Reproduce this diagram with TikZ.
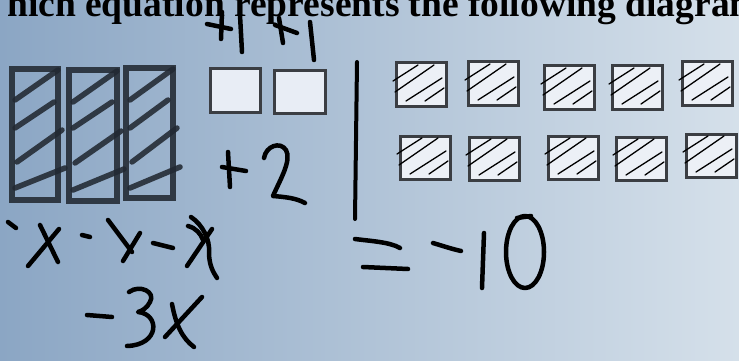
\documentclass[tikz,border=0pt]{standalone}
\usepackage{fontspec}
\setmainfont{Liberation Serif}
\definecolor{bgl}{RGB}{139,166,196}
\definecolor{bgr}{RGB}{213,224,234}
\definecolor{barcol}{RGB}{34,41,50}
\definecolor{boxedge}{RGB}{59,62,67}
\definecolor{tilefill}{RGB}{232,237,245}
\definecolor{negfill}{RGB}{236,240,246}
\tikzset{
  hand/.style={line width=4.5pt, line cap=round, line join=round, draw=black},
  bar/.style={line width=5.5pt, line cap=round, draw=barcol, draw opacity=0.88},
  unitbox/.style={draw=boxedge, line width=3pt, fill=tilefill},
  negbox/.style={draw=boxedge, line width=3pt, fill=negfill},
  hatch/.style={line width=1.3pt, draw=black, line cap=round},
  titletext/.style={font=\bfseries\fontsize{37.5}{37.5}\selectfont, anchor=base west, inner sep=0pt}
}
\begin{document}
\begin{tikzpicture}[x=1pt,y=-1pt]
\useasboundingbox (0,0) rectangle (739,361);
\clip (0,0) rectangle (739,361);
\shade[left color=bgl, right color=bgr] (0,0) rectangle (739,361);

% title (cut off at the picture's edges, as in the reference)
\node[titletext] (title) at (7,17) {hich equation represents the following diagram};

% three x-bars
\draw[bar] (12,69) -- (58,69) -- (58,200) -- (12,200) -- cycle;
\draw[bar] (15,100) -- (58,70);
\draw[bar] (15,128) -- (54,102);
\draw[bar] (17,162) -- (62,130);
\draw[bar] (15,188) -- (65,168);

\draw[bar] (69,70) -- (117,70) -- (117,201) -- (69,201) -- cycle;
\draw[bar] (73,102) -- (117,71);
\draw[bar] (73,128) -- (112,102);
\draw[bar] (75,163) -- (121,131);
\draw[bar] (73,190) -- (124,169);

\draw[bar] (126,68) -- (173,68) -- (173,198) -- (126,198) -- cycle;
\draw[bar] (130,100) -- (173,69);
\draw[bar] (130,128) -- (168,100);
\draw[bar] (132,162) -- (177,128);
\draw[bar] (130,188) -- (180,167);

% unit tiles
\draw[unitbox] (210,69) rectangle (260,112);
\draw[unitbox] (274,71) rectangle (325,113);

% negative unit tiles
\foreach \px/\py in {396/63, 468/62, 544/66, 612/66, 682/62, 400/136, 469/137, 548/136, 616/137, 686/134} {
  \begin{scope}[shift={(\px,\py)}]
    \draw[negbox] (0,0) rectangle (50,43);
    \draw[hatch] (-3,18) -- (22,2);
    \draw[hatch] (-1,29) -- (38,2);
    \draw[hatch] (10,38) -- (46,15);
    \draw[hatch] (29,38) -- (48,25);
  \end{scope}
}

% divider
\draw[hand, line width=4pt] (357,62) -- (355,219);

% +1 +1
\draw[hand] (207,24) -- (231,29);
\draw[hand] (222,12) -- (221,39);
\draw[hand] (240,15) -- (242,52);
\draw[hand] (275,25) -- (297,33);
\draw[hand] (279,18) -- (283,43);
\draw[hand] (310,22) -- (314,60);

% +2
\draw[hand] (222,167) -- (246,171);
\draw[hand] (228,152) -- (230,187);
\draw[hand] (264,158) .. controls (266,146) and (280,141) .. (286,150)
  .. controls (292,160) and (280,180) .. (273,196)
  .. controls (285,197) and (296,198) .. (305,203);

% x - x - x
\draw[hand] (8,222) -- (16,228);
\draw[hand] (40,225) -- (58,262);
\draw[hand] (59,229) -- (28,266);
\draw[hand] (82,235) -- (90,237);
\draw[hand] (108,220) -- (132,252);
\draw[hand] (140,233) -- (123,261);
\draw[hand] (153,243) -- (173,248);
\draw[hand] (191,217) .. controls (203,225) and (210,240) .. (209,252)
  .. controls (209,265) and (213,272) .. (217,278);
\draw[hand] (188,226) .. controls (196,228) and (201,234) .. (203,240);
\draw[hand] (212,229) -- (187,266);

% -3x
\draw[hand] (87,315) -- (112,317);
\draw[hand] (129,292) .. controls (140,284) and (156,292) .. (150,302)
  .. controls (147,308) and (142,311) .. (138,312)
  .. controls (160,314) and (160,345) .. (127,346);
\draw[hand] (202,297) -- (165,337);
\draw[hand] (172,304) .. controls (176,325) and (182,338) .. (194,347);

% = -10
\draw[hand] (355,239) .. controls (370,241) and (390,242) .. (400,248);
\draw[hand] (363,267) -- (408,269);
\draw[hand] (433,243) .. controls (443,246) and (452,249) .. (461,251);
\draw[hand] (484,233) -- (482,288);
\draw[hand] (525,252) ellipse [x radius=19, y radius=36];
\draw[hand] (517,218) -- (531,216);
\end{tikzpicture}
\end{document}
